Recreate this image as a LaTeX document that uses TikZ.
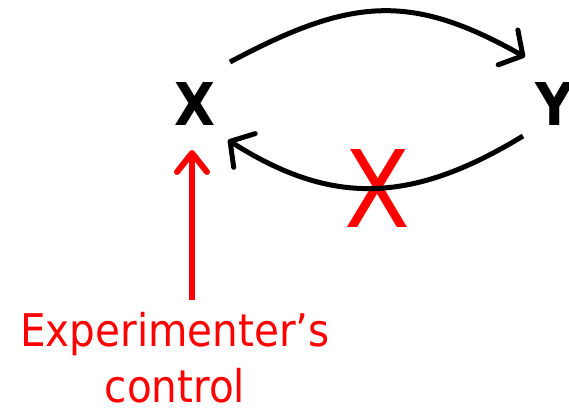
\documentclass[tikz,border=0pt]{standalone}
\usepackage{fontspec}
\usetikzlibrary{arrows.meta}
\newfontfamily\tah{DejaVu Sans Condensed}
\newfontfamily\tahb{DejaVu Sans Condensed Bold}
\definecolor{pred}{RGB}{255,0,0}
\tikzset{
  varlabel/.style={inner sep=0pt, font=\tahb\fontsize{59}{59}\selectfont},
  causal/.style={line width=5pt, -{Straight Barb[length=17pt,width=40pt,round]}},
  ctrlarrow/.style={pred, line width=6pt, -{Straight Barb[length=19pt,width=30pt,round]}},
}
\begin{document}
\begin{tikzpicture}[x=1pt,y=-1pt]
\useasboundingbox (0,0) rectangle (569,411);
\node[varlabel, anchor=base] (x) at (195,126) {X};
\node[varlabel, anchor=base west] (y) at (535,126) {Y};
\node[pred, inner sep=0pt, anchor=base, font=\tah\fontsize{107}{107}\selectfont] (cross) at (377,228) {X};
\node[pred, inner sep=0pt, anchor=base, align=center, font=\tah\fontsize{45}{56}\selectfont] (ctl) at (175,402) {Experimenter’s\\control\vphantom{}};
\coordinate (t1) at (230,62);
\coordinate (t2) at (525,57);
\coordinate (b1) at (523,136);
\coordinate (b2) at (228,140);
\coordinate (r1) at (192,300);
\coordinate (r2) at (192,150);
\draw[causal] (t1) .. controls (350,-2) and (410,-8) .. (t2);
\draw[causal] (b1) .. controls (410,205) and (330,205) .. (b2);
\draw[ctrlarrow] (r1) -- (r2);
\end{tikzpicture}
\end{document}
